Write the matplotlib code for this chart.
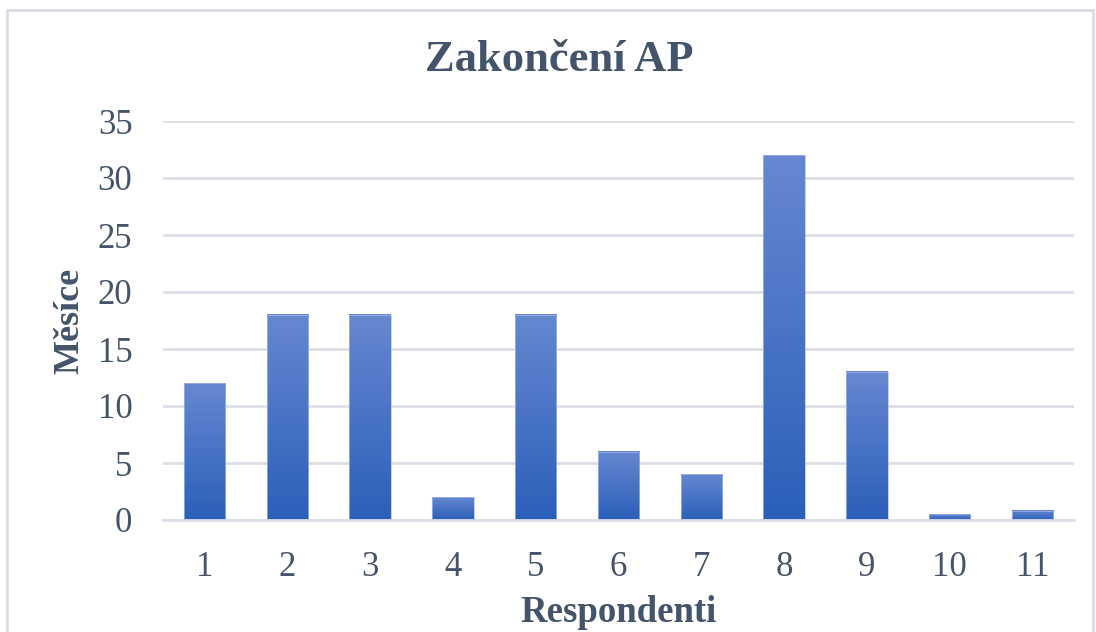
import numpy as np
import matplotlib.pyplot as plt
from matplotlib.patches import Rectangle
from matplotlib.colors import LinearSegmentedColormap

respondents = ["1", "2", "3", "4", "5", "6", "7", "8", "9", "10", "11"]
months = [12, 18, 18, 2, 18, 6, 4, 32, 13, 0.5, 0.8]

plt.rcParams['font.family'] = ['Liberation Serif', 'DejaVu Serif']
textColor = '#44546a'

fig = plt.figure(figsize=(10.96, 6.32), dpi=100)
ax = fig.add_axes([163 / 1096, 1 - 520 / 632, (1074 - 163) / 1096, (520 - 121) / 632])

# light frame round the whole chart
fig.patches.append(Rectangle((7 / 1096, -0.05), 1086 / 1096, 1.05 - 10 / 632,
                             transform=fig.transFigure, fill=False,
                             edgecolor='#d9dde3', linewidth=2))

gradient = LinearSegmentedColormap.from_list("bars", ["#2b5fb9", "#6688d0"])
x = np.arange(len(respondents))
barWidth = 0.5
bars = ax.bar(x, months, width=barWidth, color='none', edgecolor='#a9bde6', linewidth=0.5, zorder=3)
for bar in bars:
    x0 = bar.get_x()
    h = bar.get_height()
    ax.imshow(np.linspace(0, 1, 256).reshape(-1, 1), cmap=gradient, origin='lower',
              extent=[x0, x0 + bar.get_width(), 0, h], aspect='auto', zorder=2)

ax.set_xlim(-0.5, len(respondents) - 0.5)
ax.set_ylim(0, 35)
ax.set_yticks(range(0, 36, 5))
ax.set_xticks(x)
ax.set_xticklabels(respondents)
ax.grid(axis='y', color='#dcdfe6', linewidth=2, zorder=0)
ax.set_axisbelow(True)
for side in ['top', 'right', 'left']:
    ax.spines[side].set_visible(False)
ax.spines['bottom'].set_color('#dcdfe6')
ax.spines['bottom'].set_linewidth(2)
ax.tick_params(length=0, labelsize=25, colors=textColor)
ax.tick_params(axis='x', pad=22)
ax.tick_params(axis='y', pad=22)

fig.text(559 / 1096, 1 - 60 / 632, "Zakončení AP", fontsize=32, fontweight='bold',
         color=textColor, ha='center', va='center')
ax.set_xlabel("Respondenti", fontsize=26.5, fontweight='bold', color=textColor, labelpad=8)
ax.set_ylabel("Měsíce", fontsize=26, fontweight='bold', color=textColor, labelpad=8)

fig.savefig("out.png", dpi=100)
